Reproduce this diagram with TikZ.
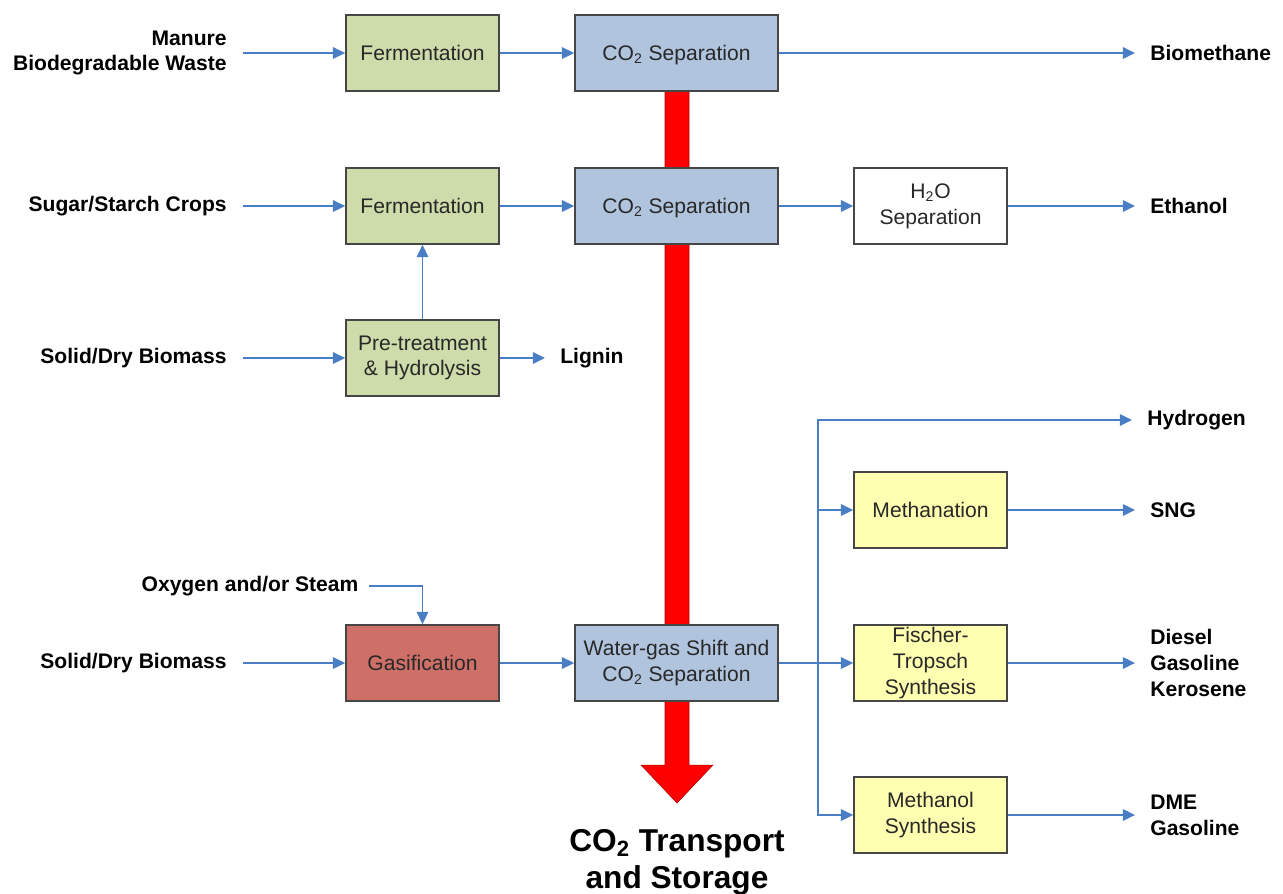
\documentclass[tikz,border=0pt]{standalone}
\usepackage{fontspec}
\setmainfont{Liberation Sans}
\usetikzlibrary{arrows.meta}
\definecolor{arrblue}{RGB}{74,126,196}
\definecolor{boxgreen}{RGB}{205,220,170}
\definecolor{boxblue}{RGB}{176,196,222}
\definecolor{boxred}{RGB}{206,112,104}
\definecolor{boxyellow}{RGB}{255,255,178}
\definecolor{boxline}{RGB}{70,70,70}
\definecolor{txt}{RGB}{40,40,40}
\newcommand{\subtwo}{\smash{\textsubscript{2}}}
\newcommand{\nodepth}[1]{\raisebox{0pt}[\height][0pt]{#1}}
\begin{document}
\begin{tikzpicture}[x=0.02cm,y=-0.02cm,
  box/.style={draw=boxline, line width=0.9pt, minimum height=1.52cm, inner sep=1pt, align=center, text=txt, font=\fontsize{12}{14.7}\selectfont},
  sbox/.style={box, minimum width=3.06cm},
  wbox/.style={box, minimum width=4.06cm},
  inlab/.style={anchor=east, inner sep=0pt, align=right, font=\fontsize{12}{14.5}\selectfont\bfseries},
  outlab/.style={anchor=west, inner sep=0pt, align=left, font=\fontsize{12}{14.7}\selectfont\bfseries},
  arr/.style={draw=arrblue, line width=1.1pt, -{Triangle[length=7pt,width=6.5pt]}},
  plain/.style={draw=arrblue, line width=1.1pt},
  sin/.style={shorten <=9pt},
  sout/.style={shorten >=8.5pt}
]
\useasboundingbox (0,0) rectangle (1283,893);

% red CO2 arrow
\fill[red, draw=red!65!black, line width=0.3pt]
  (665,91) -- (689,91) -- (689,765) -- (713,765) -- (677,803) -- (641,765) -- (665,765) -- cycle;

% boxes
\node[sbox, fill=boxgreen] (f1) at (422.5,53) {Fermentation};
\node[wbox, fill=boxblue] (c1) at (676.5,53) {\nodepth{CO\subtwo{} Separation}};
\node[sbox, fill=boxgreen] (f2) at (422.5,206) {Fermentation};
\node[wbox, fill=boxblue] (c2) at (676.5,206) {\nodepth{CO\subtwo{} Separation}};
\node[sbox, fill=white] (h2o) at (930.5,206) {H\subtwo{}O\\Separation};
\node[sbox, fill=boxgreen] (pre) at (422.5,358) {Pre-treatment\\\& Hydrolysis};
\node[sbox, fill=boxred] (gas) at (422.5,663) {Gasification};
\node[wbox, fill=boxblue] (wgs) at (676.5,663) {Water-gas Shift and\\CO\subtwo{} Separation};
\node[sbox, fill=boxyellow] (meth) at (930.5,510) {Methanation};
\node[sbox, fill=boxyellow] (ft) at (930.5,663) {Fischer-\\Tropsch\\Synthesis};
\node[sbox, fill=boxyellow] (mol) at (930.5,815) {Methanol\\Synthesis};

% input labels
\node[inlab] (in1) at (227,53) {Manure\\Biodegradable Waste};
\node[inlab] (in2) at (227,206) {Sugar/Starch Crops};
\node[inlab] (in3) at (227,358) {Solid/Dry Biomass};
\node[inlab] (in4) at (227,663) {Solid/Dry Biomass};
\node[inlab, anchor=center] (oxy) at (250,586) {Oxygen and/or Steam};

% output labels
\node[outlab] (o1) at (1150,53) {Biomethane};
\node[outlab] (o2) at (1150,206) {Ethanol};
\node[outlab] (lig) at (560,358) {Lignin};
\node[outlab] (o3) at (1147,420) {Hydrogen};
\node[outlab] (o4) at (1150,510) {SNG};
\node[outlab] (o5) at (1150,663) {Diesel\\Gasoline\\Kerosene};
\node[outlab] (o6) at (1150,815) {DME\\Gasoline};

\node[font=\fontsize{18}{21}\selectfont\bfseries, align=center, inner sep=0pt] (ccs) at (677,862) {CO\subtwo{} Transport\\and Storage};

% connectors
\draw[arr, sin] (in1.east) -- (f1.west);
\draw[arr] (f1.east) -- (c1.west);
\draw[arr, sout] (c1.east) -- (o1.west);

\draw[arr, sin] (in2.east) -- (f2.west);
\draw[arr] (f2.east) -- (c2.west);
\draw[arr] (c2.east) -- (h2o.west);
\draw[arr, sout] (h2o.east) -- (o2.west);

\draw[arr, sin] (in3.east) -- (pre.west);
\draw[arr] (pre.north) -- (f2.south);
\draw[arr, sout] (pre.east) -- (lig.west);

\draw[arr, shorten <=6pt] (oxy.east) -| (gas.north);
\draw[arr, sin] (in4.east) -- (gas.west);
\draw[arr] (gas.east) -- (wgs.west);

\coordinate (j) at (818,663);
\draw[plain] (wgs.east) -- (j);
\draw[arr] (j) -- (ft.west);
\draw[arr, sout] (j) |- (o3.west);
\draw[arr] (j) |- (meth.west);
\draw[arr] (j) |- (mol.west);

\draw[arr, sout] (meth.east) -- (o4.west);
\draw[arr, sout] (ft.east) -- (o5.west);
\draw[arr, sout] (mol.east) -- (o6.west);
\end{tikzpicture}
\end{document}
